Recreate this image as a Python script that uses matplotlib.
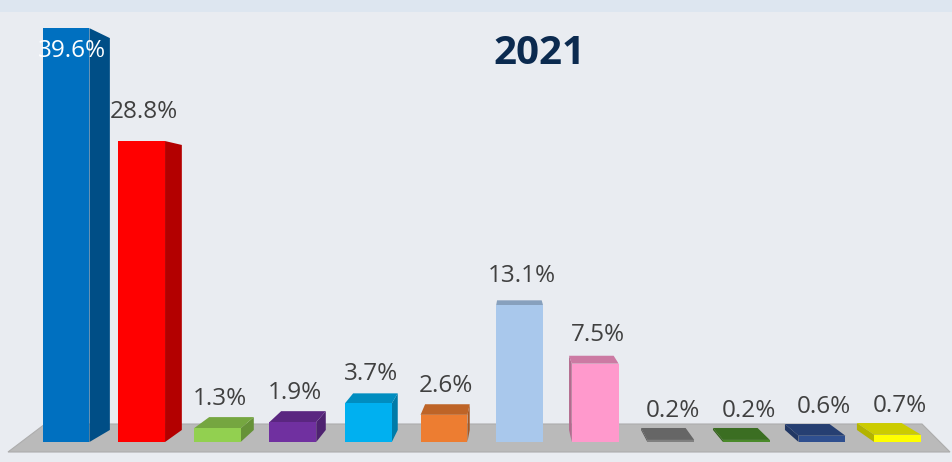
import matplotlib
matplotlib.use("Agg")
import matplotlib.pyplot as plt
from matplotlib.patches import Polygon, Rectangle
import matplotlib.colors as mcolors
import numpy as np

# ---- data ----
title = "2021"
values = [39.6, 28.8, 1.3, 1.9, 3.7, 2.6, 13.1, 7.5, 0.2, 0.2, 0.6, 0.7]
labels = ["39.6%", "28.8%", "1.3%", "1.9%", "3.7%", "2.6%", "13.1%", "7.5%",
          "0.2%", "0.2%", "0.6%", "0.7%"]
colors = ["#0070c0", "#ff0000", "#92d050", "#7030a0", "#00b0f0", "#ed7d31",
          "#a9c8ec", "#ff99cc", "#808080", "#4a8a2a", "#2f4f8f", "#ffff00"]

# ---- style / layout ----
BG = "#e9ecf1"
W, H = 952, 462
PX_PER_CAT = 75.6      # px between bar centres
PX_PER_UNIT = 10.45    # px per percentage point
X0_PX = 66             # px of first bar centre
BASE_PX = 442          # px (from top) of baseline
BAR_W = 0.62
VP = ((515 - X0_PX) / PX_PER_CAT, (BASE_PX - 215) / PX_PER_UNIT)  # vanishing point
SX, SY = 0.952, 0.947  # depth scale of the bar back face

fig = plt.figure(figsize=(W / 100, H / 100), dpi=100, facecolor=BG)
ax = fig.add_axes([0, 0, 1, 1])
ax.set_facecolor(BG)
ax.set_xlim(-X0_PX / PX_PER_CAT, (W - X0_PX) / PX_PER_CAT)
ax.set_ylim((BASE_PX - H) / PX_PER_UNIT, BASE_PX / PX_PER_UNIT)
ax.axis("off")

# top light band
fig.patches.append(Rectangle((0, 1 - 12 / H), 1, 12 / H, transform=fig.transFigure,
                             facecolor="#dde6f0", edgecolor="none", zorder=0))


def proj(px, py, sx=SX, sy=SY):
    return (VP[0] + sx * (px - VP[0]), VP[1] + sy * (py - VP[1]))


def shade(c, f):
    r, g, b = mcolors.to_rgb(c)
    return (r * f, g * f, b * f)


def px2x(p):
    return (p - X0_PX) / PX_PER_CAT


def px2y(p):
    return (BASE_PX - p) / PX_PER_UNIT


# floor
floor = [(px2x(8), px2y(452)), (px2x(950), px2y(452)),
         (px2x(922), px2y(424)), (px2x(45), px2y(424))]
ax.add_patch(Polygon(floor, closed=True, facecolor="#bababa", edgecolor="#adadad",
                     lw=0.8, zorder=1))

x = np.arange(len(values))
ax.bar(x, values, width=BAR_W, color=colors, zorder=4, linewidth=0)

for xi, v, c in zip(x, values, colors):
    x0, x1 = xi - BAR_W / 2, xi + BAR_W / 2
    fl, fr, tr, tl = (x0, 0), (x1, 0), (x1, v), (x0, v)
    b = [proj(*p) for p in (fl, fr, tr, tl)]
    if x1 < VP[0]:
        ax.add_patch(Polygon([fr, tr, b[2], b[1]], facecolor=shade(c, 0.7),
                             edgecolor="none", zorder=2))
    if x0 > VP[0]:
        ax.add_patch(Polygon([fl, tl, b[3], b[0]], facecolor=shade(c, 0.7),
                             edgecolor="none", zorder=2))
    if v < VP[1]:
        ax.add_patch(Polygon([tl, tr, b[2], b[3]], facecolor=shade(c, 0.8),
                             edgecolor="none", zorder=3))

ytop = BASE_PX / PX_PER_UNIT
for xi, v, lab in zip(x, values, labels):
    ly = v + 29 / PX_PER_UNIT
    if ly + 1.0 > ytop:
        ax.text(xi + 0.08, v - 23 / PX_PER_UNIT, lab, ha="center", va="center",
                fontsize=17.5, family="Open Sans", color="white", zorder=5)
    else:
        ax.text(xi + 0.03, ly, lab, ha="center", va="center",
                fontsize=17.5, family="Open Sans", color="#404040", zorder=5)

fig.text(539 / W, 1 - 53 / H, title, ha="center", va="center", fontsize=29,
         fontweight="bold", family="Open Sans", color="#0b2a4f")

fig.savefig("out.png", dpi=100, facecolor=BG)
